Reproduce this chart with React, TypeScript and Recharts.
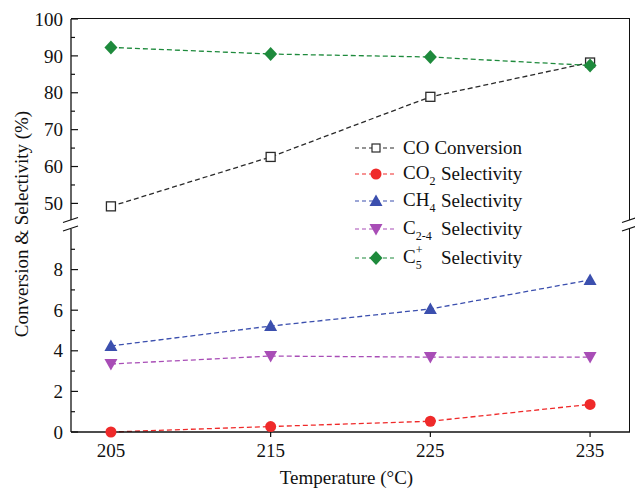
import React from "react";
import { LineChart, Line, XAxis, YAxis } from "recharts";

// temperatures (°C) and measured values (%)
const temps = [205, 215, 225, 235];
const coConversion = [49.2, 62.6, 78.9, 88.2];
const c5Selectivity = [92.3, 90.5, 89.7, 87.4];
const co2Selectivity = [0.0, 0.27, 0.53, 1.36];
const ch4Selectivity = [4.24, 5.22, 6.06, 7.49];
const c24Selectivity = [3.35, 3.74, 3.69, 3.69];

const xTicks = [205, 215, 225, 235];
const upperTicks = [50, 55, 60, 65, 70, 75, 80, 85, 90, 95, 100];
const upperLabels = [50, 60, 70, 80, 90, 100];
const lowerTicks = [0, 1, 2, 3, 4, 5, 6, 7, 8, 9];
const lowerLabels = [0, 2, 4, 6, 8];

const X_MIN = 202.5;
const X_MAX = 237.5;
const INK = "#111";
const BLACK = "#2a2a2a";
const RED = "#ef2a2a";
const BLUE = "#3b4fae";
const PURPLE = "#a84db6";
const GREEN = "#1e8a3c";
const FONT = "'Liberation Serif', 'Times New Roman', serif";

const upperData = temps.map((t, i) => ({ t, co: coConversion[i], c5: c5Selectivity[i] }));
const lowerData = temps.map((t, i) => ({
  t,
  co2: co2Selectivity[i],
  ch4: ch4Selectivity[i],
  c24: c24Selectivity[i],
}));

const makeYTick = (labels: number[]) => (props: any) => {
  const { x, y, payload } = props;
  const major = labels.includes(payload.value);
  return (
    <g>
      <line x1={x} x2={x + (major ? 7 : 4)} y1={y} y2={y} stroke={INK} strokeWidth={1.2} />
      {major && (
        <text x={x - 8} y={y} dy="0.35em" textAnchor="end" fontSize={19} fill={INK}>
          {payload.value}
        </text>
      )}
    </g>
  );
};

const squareDot = (props: any) => (
  <rect key={`sq-${props.index}`} x={props.cx - 4.5} y={props.cy - 4.5} width={9} height={9} fill="#fff" stroke={BLACK} strokeWidth={1.3} />
);
const circleDot = (props: any) => (
  <circle key={`ci-${props.index}`} cx={props.cx} cy={props.cy} r={5.5} fill={RED} />
);
const triUpDot = (props: any) => (
  <path key={`tu-${props.index}`} d={`M${props.cx},${props.cy - 6.5} L${props.cx + 6.5},${props.cy + 5} L${props.cx - 6.5},${props.cy + 5} Z`} fill={BLUE} />
);
const triDownDot = (props: any) => (
  <path key={`td-${props.index}`} d={`M${props.cx},${props.cy + 6.5} L${props.cx + 6.5},${props.cy - 5} L${props.cx - 6.5},${props.cy - 5} Z`} fill={PURPLE} />
);
const diamondDot = (props: any) => (
  <path key={`di-${props.index}`} d={`M${props.cx},${props.cy - 7} L${props.cx + 6.5},${props.cy} L${props.cx},${props.cy + 7} L${props.cx - 6.5},${props.cy} Z`} fill={GREEN} />
);

const legendRows = [
  { color: BLACK, marker: "square", label: "CO", sub: "", sup: "", rest: "Conversion", top: 148 },
  { color: RED, marker: "circle", label: "CO", sub: "2", sup: "", rest: "Selectivity", top: 174 },
  { color: BLUE, marker: "up", label: "CH", sub: "4", sup: "", rest: "Selectivity", top: 201 },
  { color: PURPLE, marker: "down", label: "C", sub: "2-4", sup: "", rest: "Selectivity", top: 229 },
  { color: GREEN, marker: "diamond", label: "C", sub: "5", sup: "+", rest: "Selectivity", top: 258 },
];

const LegendMarker = ({ marker, color }: { marker: string; color: string }) => {
  const cx = 21;
  const cy = 10;
  let shape: React.ReactNode = null;
  if (marker === "square") shape = <rect x={cx - 4} y={cy - 4} width={8} height={8} fill="#fff" stroke={color} strokeWidth={1.2} />;
  if (marker === "circle") shape = <circle cx={cx} cy={cy} r={5.5} fill={color} />;
  if (marker === "up") shape = <path d={`M${cx},${cy - 6.5} L${cx + 6.5},${cy + 5} L${cx - 6.5},${cy + 5} Z`} fill={color} />;
  if (marker === "down") shape = <path d={`M${cx},${cy + 6.5} L${cx + 6.5},${cy - 5} L${cx - 6.5},${cy - 5} Z`} fill={color} />;
  if (marker === "diamond") shape = <path d={`M${cx},${cy - 7} L${cx + 6.5},${cy} L${cx},${cy + 7} L${cx - 6.5},${cy} Z`} fill={color} />;
  return (
    <svg width={42} height={20} style={{ display: "block" }}>
      <line x1={0} x2={42} y1={cy} y2={cy} stroke={color} strokeWidth={1.2} strokeDasharray="4 3" />
      {shape}
    </svg>
  );
};

export default function App() {
  return (
    <div style={{ position: "absolute", left: 0, top: 0, width: 635, height: 488, background: "#fff", fontFamily: FONT, color: INK }}>
      {/* plot frame: top and right edges as css borders */}
      <div style={{ position: "absolute", left: 71, top: 18, width: 559, height: 202, borderTop: "1.5px solid #111", borderRight: "1.5px solid #111", boxSizing: "border-box" }} />
      <div style={{ position: "absolute", left: 71, top: 229, width: 559, height: 203, borderRight: "1.5px solid #111", boxSizing: "border-box" }} />
      <div style={{ position: "absolute", left: 0, top: 0 }}>
        <LineChart width={635} height={222} data={upperData} margin={{ top: 19, right: 5, bottom: 2, left: 0 }}>
          <XAxis dataKey="t" type="number" domain={[X_MIN, X_MAX]} hide allowDataOverflow />
          <YAxis
            type="number"
            domain={[45.5, 100]}
            ticks={upperTicks}
            interval={0}
            width={71}
            tickSize={0}
            tickMargin={0}
            tickLine={false}
            axisLine={{ stroke: INK, strokeWidth: 1.3 }}
            tick={makeYTick(upperLabels)}
            allowDataOverflow
          />
          <Line dataKey="co" stroke={BLACK} strokeWidth={1.3} strokeDasharray="5 3" dot={squareDot} isAnimationActive={false} />
          <Line dataKey="c5" stroke={GREEN} strokeWidth={1.3} strokeDasharray="5 3" dot={diamondDot} isAnimationActive={false} />
        </LineChart>
      </div>
      <div style={{ position: "absolute", left: 0, top: 225 }}>
        <LineChart width={635} height={263} data={lowerData} margin={{ top: 4, right: 5, bottom: 0, left: 0 }}>
          <XAxis
            dataKey="t"
            type="number"
            domain={[X_MIN, X_MAX]}
            ticks={xTicks}
            interval={0}
            height={56}
            tickSize={5}
            tickMargin={7}
            tickLine={{ stroke: INK, strokeWidth: 1.2 }}
            axisLine={{ stroke: INK, strokeWidth: 1.3 }}
            tick={{ fontSize: 19, fill: INK }}
            label={{ value: "Temperature (°C)", position: "insideBottom", offset: 4, dx: -4, fontSize: 19, fill: INK }}
            allowDataOverflow
          />
          <YAxis
            type="number"
            domain={[0, 10]}
            ticks={lowerTicks}
            interval={0}
            width={71}
            tickSize={0}
            tickMargin={0}
            tickLine={false}
            axisLine={{ stroke: INK, strokeWidth: 1.3 }}
            tick={makeYTick(lowerLabels)}
          />
          <Line dataKey="co2" stroke={RED} strokeWidth={1.3} strokeDasharray="5 3" dot={circleDot} isAnimationActive={false} />
          <Line dataKey="ch4" stroke={BLUE} strokeWidth={1.3} strokeDasharray="5 3" dot={triUpDot} isAnimationActive={false} />
          <Line dataKey="c24" stroke={PURPLE} strokeWidth={1.3} strokeDasharray="5 3" dot={triDownDot} isAnimationActive={false} />
        </LineChart>
      </div>

      {/* axis break marks and shared y title */}
      <svg width={635} height={488} style={{ position: "absolute", left: 0, top: 0, pointerEvents: "none" }}>
        <line x1={63} y1={222.5} x2={78} y2={217.5} stroke={INK} strokeWidth={1.3} />
        <line x1={63} y1={231} x2={78} y2={226} stroke={INK} strokeWidth={1.3} />
        <line x1={622} y1={222.5} x2={637} y2={217.5} stroke={INK} strokeWidth={1.3} />
        <line x1={622} y1={231} x2={637} y2={226} stroke={INK} strokeWidth={1.3} />
        <text x={21} y={224} transform="rotate(-90 21 224)" textAnchor="middle" dy="0.35em" fontSize={19} fill={INK} fontFamily={FONT}>
          Conversion &amp; Selectivity (%)
        </text>
      </svg>

      {legendRows.map((r) => (
        <div key={r.marker} style={{ position: "absolute", left: 355, top: r.top - 10, height: 20, display: "flex", alignItems: "center", fontSize: 19, lineHeight: "20px", whiteSpace: "nowrap" }}>
          <LegendMarker marker={r.marker} color={r.color} />
          <span style={{ marginLeft: 6, display: "inline-block", width: r.rest === "Conversion" ? "auto" : 38 }}>
            {r.label}
            {r.sub && (
              <span style={{ position: "relative", display: "inline-block", fontSize: 12, top: 6, width: r.sup ? 6 : "auto" }}>
                {r.sub}
                {r.sup && <span style={{ position: "absolute", left: 0, top: -15, fontSize: 12 }}>{r.sup}</span>}
              </span>
            )}
          </span>
          <span style={{ marginLeft: r.rest === "Conversion" ? 5 : 0 }}>{r.rest}</span>
        </div>
      ))}
    </div>
  );
}
